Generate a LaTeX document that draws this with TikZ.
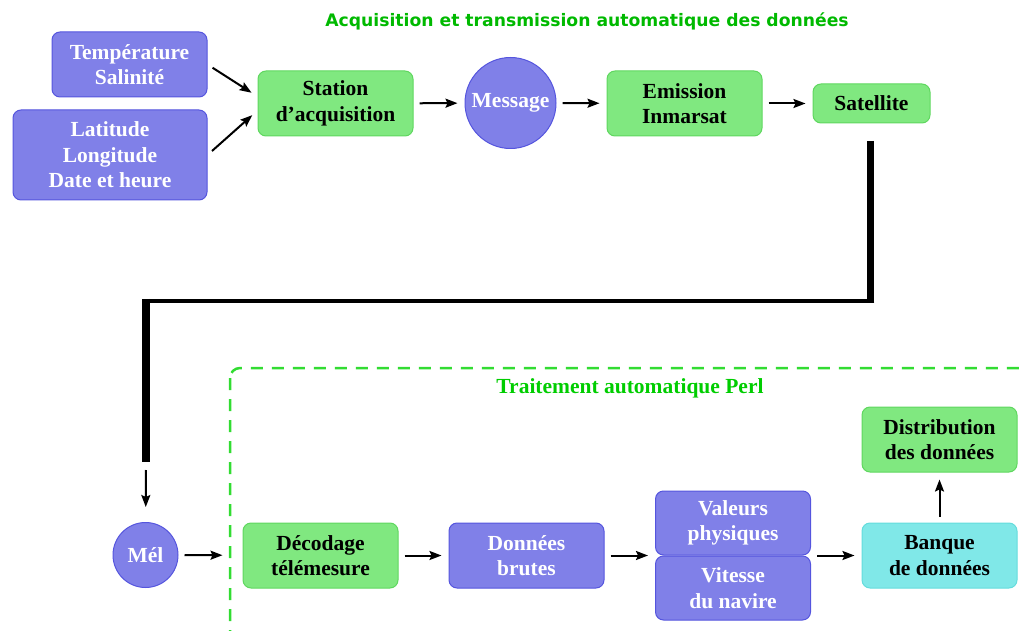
\documentclass[tikz,border=0pt]{standalone}
\usepackage{fontspec}
\setmainfont{Liberation Serif}
\newfontfamily\titlesans{DejaVu Sans}
\usetikzlibrary{arrows.meta}
\definecolor{bleu}{RGB}{128,128,232}
\definecolor{bleubord}{RGB}{85,85,222}
\definecolor{vert}{RGB}{128,232,128}
\definecolor{vertbord}{RGB}{95,215,95}
\definecolor{cyan}{RGB}{128,232,232}
\definecolor{cyanbord}{RGB}{100,220,220}
\definecolor{vertitre}{RGB}{0,185,0}
\definecolor{vertperl}{RGB}{0,205,0}
\definecolor{vertpoint}{RGB}{50,220,50}

\begin{document}
\begin{tikzpicture}
  [x=1pt,y=-1pt,
    every node/.style={font=\fontsize{21.5}{25.5}\selectfont\bfseries,align=center,inner sep=0pt},
    bleubox/.style={rounded corners=8pt,draw=bleubord,fill=bleu,text=white,line width=1pt,minimum width=155pt,minimum height=65pt},
    vertbox/.style={rounded corners=8pt,draw=vertbord,fill=vert,line width=1pt,minimum width=155pt,minimum height=65pt},
    cyanbox/.style={rounded corners=8pt,draw=cyanbord,fill=cyan,line width=1pt,minimum width=155pt,minimum height=65pt},
    rond/.style={circle,draw=bleubord,fill=bleu,text=white,line width=1pt},
    fleche/.style={-{Stealth[length=12pt,width=9pt,inset=2pt]},line width=2pt,shorten <=6pt,shorten >=7pt},
    cable/.style={line width=7.5pt},
  ]
  \clip (0,0) rectangle (1022,631);

  % acquisition et transmission
  \node[font=\titlesans\bfseries\fontsize{17.2}{20}\selectfont,text=vertitre] (titreacq) at (587,21) {Acquisition et transmission automatique des données};
  \node[bleubox] (tempsal) at (129.5,64.5) {Température\\Salinité};
  \node[bleubox,minimum width=194pt,minimum height=90pt] (latlon) at (110,155) {Latitude\\Longitude\\Date et heure};
  \node[vertbox] (station) at (335.5,103.5) {Station\\d’acquisition};
  \node[rond,minimum size=91pt] (message) at (510.5,103) {Message};
  \node[vertbox] (emission) at (684.5,103.5) {Emission\\Inmarsat};
  \node[vertbox,minimum width=117pt,minimum height=39pt] (satellite) at (871.5,103.5) {Satellite};

  \draw[fleche] (tempsal.east) -- ([yshift=7pt]station.west);
  \draw[fleche] (latlon.east) -- ([yshift=-7pt]station.west);
  \draw[fleche] (station) -- (message);
  \draw[fleche] (message) -- (emission);
  \draw[fleche] (emission) -- (satellite);

  % liaison satellite - mel
  \coordinate (t1) at (870.5,141);
  \coordinate (t2) at (870.5,301);
  \coordinate (t3) at (146,301);
  \coordinate (t4) at (146,462);
  \draw[cable] (t1) -- ([yshift=-2.25pt]t2);
  \draw[line width=4.5pt] ([xshift=3.75pt]t2) -- ([xshift=-3.75pt]t3);
  \draw[cable] ([yshift=2.25pt]t3) -- (t4);

  \node[rond,minimum size=65pt] (mel) at (145.5,555) {Mél};
  \draw[fleche,shorten <=8pt,shorten >=15pt] (t4) -- (mel);

  % traitement automatique
  \draw[vertpoint,line width=2.5pt,dash pattern=on 12pt off 9pt,rounded corners=10pt] (230,368) rectangle (1070,690);
  \node[text=vertperl] (titreperl) at (630,388) {Traitement automatique Perl};
  \node[vertbox] (decodage) at (320.5,555.5) {Décodage\\télémesure};
  \node[bleubox] (donnees) at (526.5,555.5) {Données\\brutes};
  \node[bleubox,minimum height=64pt] (valeurs) at (733,523) {Valeurs\\physiques};
  \node[bleubox,minimum height=64pt] (vitesse) at (733,588) {Vitesse\\du navire};
  \node[cyanbox] (banque) at (939.5,555.5) {Banque\\de données};
  \node[vertbox] (distrib) at (939.5,439.5) {Distribution\\des données};

  \draw[fleche,shorten >=20pt] (mel) -- (decodage);
  \draw[fleche] (decodage) -- (donnees);
  \draw[fleche] (donnees.east) -- (donnees.east -| valeurs.west);
  \draw[fleche] (banque.west -| valeurs.east) -- (banque.west);
  \draw[fleche] (banque) -- (distrib);
\end{tikzpicture}
\end{document}
